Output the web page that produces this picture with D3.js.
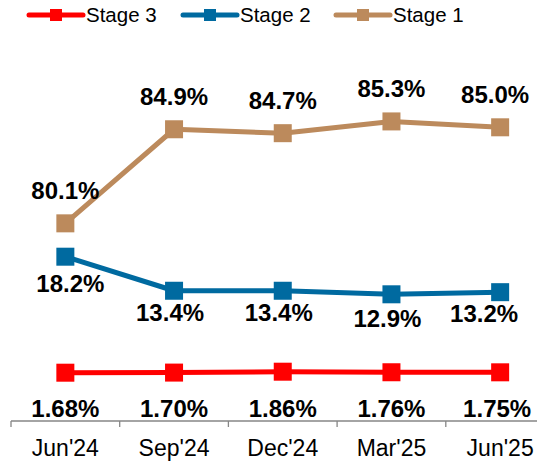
<!DOCTYPE html>
<html><head><meta charset="utf-8">
<script src="https://cdn.jsdelivr.net/npm/d3@7"></script>
<style>body{margin:0;background:#fff}svg{display:block;font-family:"Liberation Sans",Arial,sans-serif}</style>
</head><body><svg id="c" width="537" height="461"></svg>
<script>
const categories = ["Jun'24","Sep'24","Dec'24","Mar'25","Jun'25"];
const stage1 = [80.1, 84.9, 84.7, 85.3, 85.0];
const stage2 = [18.2, 13.4, 13.4, 12.9, 13.2];
const stage3 = [1.68, 1.70, 1.86, 1.76, 1.75];
const stage1Labels = ["80.1%","84.9%","84.7%","85.3%","85.0%"];
const stage2Labels = ["18.2%","13.4%","13.4%","12.9%","13.2%"];
const stage3Labels = ["1.68%","1.70%","1.86%","1.76%","1.75%"];

const svg = d3.select("#c");
const x = d3.scaleBand().domain(categories).range([11, 554.5]);
const cx = d => x(d) + x.bandwidth()/2;

// each series sits in its own band with its own value scale
const y1 = d3.scaleLinear().domain([70, 90]).range([421.3, 29.3]);
const y2 = d3.scaleLinear().domain([12.9, 18.2]).range([294.3, 256.7]);
const y3 = d3.scaleLinear().domain([1.68, 1.86]).range([372.7, 371.7]);

// label placement tweaks (layout only)
const shift1 = [[0,-33],[0,-33],[0,-33],[0,-33],[-5,-33]];
const shift2 = [[5,27],[-4,22],[-4,22],[-4,24],[-16,21]];
const shift3 = [[0,36],[0,36],[0,37],[0,36],[-3,36]];

const series = [
  {name:"Stage 3", vals:stage3, labels:stage3Labels, y:y3, color:"#FF0000", sh:shift3},
  {name:"Stage 2", vals:stage2, labels:stage2Labels, y:y2, color:"#006AA0", sh:shift2},
  {name:"Stage 1", vals:stage1, labels:stage1Labels, y:y1, color:"#BC8A5C", sh:shift1}
];

// axis
const axisY = 421;
const ax = svg.append("g").attr("transform", `translate(0,${axisY})`);
ax.append("line").attr("x1", 11).attr("x2", 537).attr("stroke", "#868686").attr("stroke-width", 1.3);
ax.selectAll("line.t").data(categories).join("line").attr("class","t")
  .attr("x1", d => x(d)).attr("x2", d => x(d)).attr("y1", 0).attr("y2", 6)
  .attr("stroke", "#868686").attr("stroke-width", 1.3);
ax.selectAll("text").data(categories).join("text")
  .attr("x", cx).attr("y", 35).attr("text-anchor","middle")
  .attr("font-size", 23).attr("fill", "#000").text(d => d);

// lines
series.forEach(s => {
  const pts = categories.map((c,i) => [cx(c), s.y(s.vals[i])]);
  svg.append("path").attr("d", d3.line()(pts)).attr("fill","none")
    .attr("stroke", s.color).attr("stroke-width", 5).attr("stroke-linejoin","round");
  svg.selectAll(null).data(pts).join("rect")
    .attr("x", d => d[0]-9).attr("y", d => d[1]-9).attr("width", 18).attr("height", 18)
    .attr("fill", s.color);
  svg.selectAll(null).data(pts).join("text")
    .attr("x", (d,i) => d[0] + s.sh[i][0]).attr("y", (d,i) => d[1] + s.sh[i][1]).attr("dy","0.36em")
    .attr("text-anchor","middle").attr("font-size", 24).attr("font-weight","bold")
    .attr("fill","#000").text((d,i) => s.labels[i]);
});

// legend
const legX = [29, 183, 336];
series.forEach((s,i) => {
  const g = svg.append("g").attr("transform", `translate(${legX[i]},15)`);
  g.append("line").attr("x1",0).attr("x2",54).attr("stroke",s.color).attr("stroke-width",5).attr("stroke-linecap","round");
  g.append("rect").attr("x",21).attr("y",-6).attr("width",12).attr("height",12).attr("fill",s.color);
  g.append("text").attr("x",57).attr("dy","0.36em").attr("font-size",20.5).attr("fill","#000").text(s.name);
});
</script></body></html>
